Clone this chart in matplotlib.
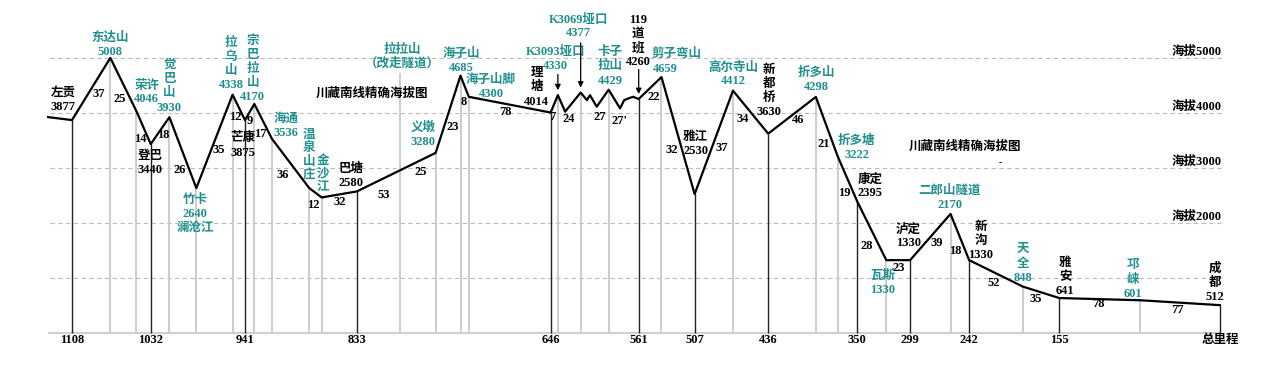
import matplotlib.pyplot as plt
import numpy as np

plt.rcParams['font.family'] = ['Liberation Serif', 'Noto Sans CJK SC', 'DejaVu Sans']
plt.rcParams['font.weight'] = 'bold'

# profile vertices: km left to Chengdu, altitude (m)
profile_km = [1131, 1108, 1071, 1046, 1032, 1014, 988, 953, 941, 932,
              915, 879, 867, 833, 757, 733, 725, 646, 639, 632,
              617, 611, 608, 601.5, 590, 579, 575, 571, 566.5, 561,
              539, 507, 470, 436, 390, 369, 350, 322, 299, 260,
              242, 190, 155, 77, 0]
profile_alt = [3930, 3877, 5008, 4046, 3440, 3930, 2640, 4338, 3875, 4170,
               3536, 2640, 2470, 2580, 3280, 4685, 4300, 4014, 4330, 4030,
               4377, 4240, 4330, 4120, 4429, 4090, 4240, 4270, 4300, 4260,
               4659, 2530, 4412, 3630, 4298, 3222, 2395, 1330, 1330, 2170,
               1330, 848, 641, 601, 512]

place_names = ["左贡", "东达山", "荣许", "登巴", "觉巴山", "竹卡", "拉乌山", "芒康", "宗巴拉山", "海通",
               "温泉山庄", "金沙江", "巴塘", "拉拉山", "义墩", "海子山", "海子山脚", "理塘", "K3093垭口", "K3069垭口",
               "卡子拉山", "119道班", "剪子弯山", "雅江", "高尔寺山", "新都桥", "折多山", "折多塘", "康定", "瓦斯",
               "泸定", "二郎山隧道", "新沟", "天全", "雅安", "邛崃", "成都"]
place_km = [1108, 1071, 1046, 1032, 1014, 988, 953, 941, 932, 915,
            879, 867, 833, 791, 757, 733, 725, 646, 639, 617,
            590, 561, 539, 507, 470, 436, 390, 369, 350, 322,
            299, 260, 242, 190, 155, 77, 0]
place_alt = [3877, 5008, 4046, 3440, 3930, 2640, 4338, 3875, 4170, 3536,
             None, None, 2580, None, 3280, 4685, 4300, 4014, 4330, 4377,
             4429, 4260, 4659, 2530, 4412, 3630, 4298, 3222, 2395, 1330,
             1330, 2170, 1330, 848, 641, 601, 512]
towns = ["左贡", "登巴", "芒康", "巴塘", "理塘", "119道班", "雅江", "新都桥", "康定", "泸定", "新沟", "雅安", "成都"]

seg_dist = ["37", "25", "14", "18", "26", "35", "12", "9", "17", "36", "12", "32", "53", "25", "23", "8", "78",
            "7", "24", "27", "27'", "22", "32", "37", "34", "46", "21", "19", "28", "23", "39", "18", "52",
            "35", "78", "77"]

grid_alt = [1000, 2000, 3000, 4000, 5000]
title = "川藏南线精确海拔图"

TEAL = '#1f8f8f'

# pixel helpers (reference is 1281x369)
def dx(px):
    return 1108 - (px - 72) / 1.036

def dy(py):
    return (333.3 - py) / 0.055

# label layout in pixels: mode, x centre, y of first line, line step
label_layout = {
    "左贡": ('h', 63, 92.7, 14), "东达山": ('h', 110, 37.7, 14.6), "荣许": ('h', 146.7, 86, 13.5),
    "登巴": ('h', 150, 155.7, 14.3), "觉巴山": ('v', 169.3, 65, 14.2), "竹卡": ('h', 195, 200, 14),
    "拉乌山": ('v', 231, 43, 14), "芒康": ('h', 243.3, 138, 15), "宗巴拉山": ('v', 252.7, 41, 14),
    "海通": ('h', 286, 118.3, 15), "温泉山庄": ('v', 309.3, 135, 13.5), "金沙江": ('v', 322.7, 160.7, 13.3),
    "巴塘": ('h', 350.7, 168.7, 14.7), "拉拉山": ('h', 402, 50, 13.3), "义墩": ('h', 423.3, 127.3, 14.4),
    "海子山": ('h', 461, 53.5, 14.5), "海子山脚": ('h', 491, 80, 14.3), "理塘": ('v', 536.7, 72.7, 14.5),
    "K3093垭口": ('h', 555.5, 51.7, 14), "K3069垭口": ('h', 578.5, 20, 13.5), "卡子拉山": ('h', 610, 51.7, 14.5),
    "119道班": ('h', 638, 20, 14), "剪子弯山": ('h', (676.7, 665), 54, 15), "雅江": ('h', 695.7, 136.7, 14.5),
    "高尔寺山": ('h', 733, 67.7, 13.5), "新都桥": ('v', 769, 70, 14), "折多山": ('h', 816.7, 72.7, 14.6),
    "折多塘": ('h', 856.7, 141, 14), "康定": ('h', 870, 179.3, 14), "瓦斯": ('h', 882.3, 275, 15),
    "泸定": ('h', 908.3, 230, 13.5), "二郎山隧道": ('h', 949.5, 190.7, 14.3), "新沟": ('v', 981, 226.7, 14),
    "天全": ('v', 1023.3, 249.3, 14.2), "雅安": ('v', 1065, 263.3, 14), "邛崃": ('v', 1132.7, 265, 14.5),
    "成都": ('v', 1215, 268.3, 14.2),
}
seg_pos = [(99, 94), (120, 99.3), (140, 139.3), (163.3, 135), (180, 170), (219, 150), (235, 117.3),
           (250, 120.7), (260, 134.3), (282.7, 175), (313.3, 205), (340, 202.3), (384, 195), (420.7, 172.3),
           (452.3, 126.7), (463.7, 102.3), (505, 112.3), (552.3, 117), (568.3, 119.3), (599.3, 117.3),
           (619.5, 120.7), (654, 96.7), (671.7, 150), (721.7, 147.7), (742.7, 119), (797.7, 120),
           (824, 144), (844, 192.7), (866.7, 246), (899, 267.7), (936.7, 243.3), (955, 250.7),
           (994, 282.7), (1036, 299), (1098.3, 304.3), (1177.3, 310)]
arrow_tail = {"K3093垭口": 71.7, "K3069垭口": 40, "119道班": 66.7}

fig = plt.figure(figsize=(12.81, 3.69), dpi=100)
ax = fig.add_axes([0, 0, 1, 1])
ax.set_xlim(dx(0), dx(1281))
ax.set_ylim(dy(369), dy(0))
ax.axis('off')

# grid and baseline
ax.hlines(grid_alt, profile_km[0] - 2, -2, colors='#bbbbbb', linestyles=(0, (4, 3)), lw=0.8, zorder=1)
ax.hlines(0, profile_km[0], profile_km[-1], colors='#d0d0d0', lw=1.6, zorder=1)
for g in grid_alt[1:]:
    ax.text(dx(1222), g + 120, "海拔%d" % g, ha='right', va='center', fontsize=9, color='black')

# vertical lines
for name, km in zip(place_names, place_km):
    top = np.interp(-km, -np.array(profile_km), profile_alt)
    if name == "拉拉山":
        top = dy(73)
    if name in towns:
        ax.vlines(km, 0, top, colors='#222222', lw=1.0, zorder=2)
        ax.text(km, dy(340), "总里程" if km == 0 else str(km), ha='center', va='center', fontsize=9,
                color='black')
    else:
        ax.vlines(km, 0, top, colors='#c8c8c8', lw=1.3, zorder=2)

ax.plot(profile_km, profile_alt, color='black', lw=1.6, zorder=3)

# place labels
for name, km, alt in zip(place_names, place_km, place_alt):
    mode, x, y, step = label_layout[name]
    color = 'black' if name in towns else TEAL
    a = [] if alt is None else [str(alt)]
    if name == "竹卡":
        lines = [name] + a + ["澜沧江"]
    elif name == "拉拉山":
        lines = [name, "（改走隧道）"]
    elif name == "卡子拉山":
        lines = ["卡子", "拉山"] + a
    elif name == "119道班":
        lines = ["119", "道", "班"] + a
    elif mode == 'v':
        lines = list(name) + a
    else:
        lines = [name] + a
    xs = x if isinstance(x, tuple) else [x] * len(lines)
    for i, s in enumerate(lines):
        ax.text(dx(xs[i]), dy(y + i * step), s, ha='center', va='center', fontsize=9, color=color, zorder=4)
    if name in arrow_tail:
        pa = np.interp(-km, -np.array(profile_km), profile_alt)
        ax.annotate("", xy=(km, pa + 40), xytext=(km, dy(arrow_tail[name])),
                    arrowprops=dict(arrowstyle='-|>', color='black', lw=0.9, mutation_scale=8), zorder=4)

# segment distances
for s, (px, py) in zip(seg_dist, seg_pos):
    ax.text(dx(px), dy(py), s, ha='center', va='center', fontsize=9, color='black', zorder=4)

ax.text(dx(371.7), dy(93.3), title, ha='center', va='center', fontsize=9, color='black')
ax.text(dx(965), dy(146.7), title, ha='center', va='center', fontsize=9, color='black')
ax.text(dx(1000), dy(163), "-", ha='center', va='center', fontsize=7, color='black')

plt.savefig('out.png', dpi=100)
